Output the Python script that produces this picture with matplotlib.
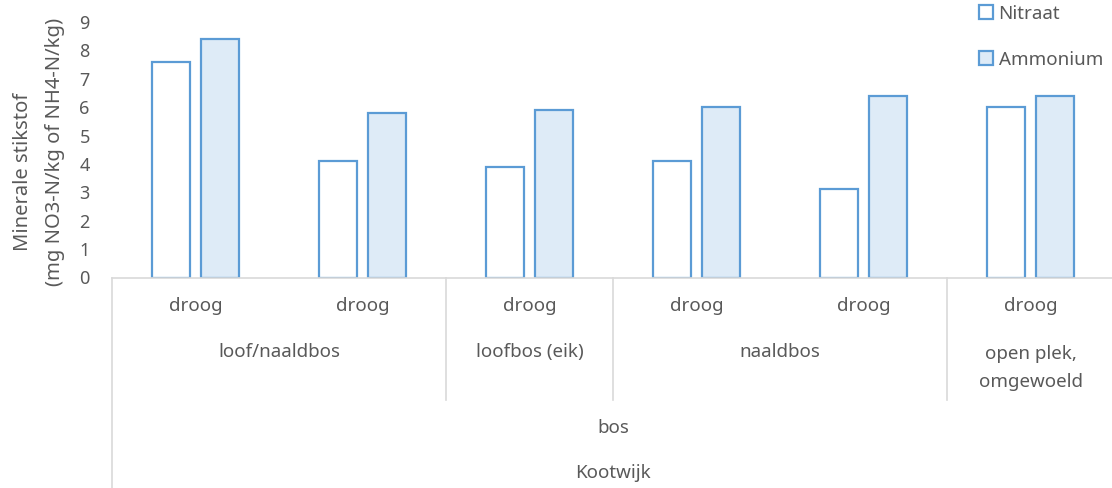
import matplotlib.pyplot as plt
import matplotlib.patches as mpatches
import matplotlib.transforms as mtransforms
import numpy as np

plt.rcParams['font.family'] = ['Noto Sans', 'DejaVu Sans']

# Data
vocht = ['droog', 'droog', 'droog', 'droog', 'droog', 'droog']
nitraat = [7.6, 4.1, 3.9, 4.1, 3.1, 6.0]
ammonium = [8.4, 5.8, 5.9, 6.0, 6.4, 6.4]
begroeiing = ['loof/naaldbos', 'loofbos (eik)', 'naaldbos', 'open plek,\nomgewoeld']
begroeiing_span = [(0, 1), (2, 2), (3, 4), (5, 5)]
landgebruik = 'bos'
locatie = 'Kootwijk'

blue = '#5B9BD5'
fill = '#DEEBF7'
grey_text = '#595959'
grey_line = '#D9D9D9'

W, H = 1112, 488
fig = plt.figure(figsize=(W / 100, H / 100), dpi=100)
ax = fig.add_axes([112 / W, (H - 277.5) / H, 1002 / W, 255.5 / H])

x = np.arange(len(nitraat))
bw = 0.228
off = 0.144
ax.bar(x - off, nitraat, bw, facecolor='white', edgecolor=blue, linewidth=1.6, label='Nitraat')
ax.bar(x + off, ammonium, bw, facecolor=fill, edgecolor=blue, linewidth=1.6, label='Ammonium')

ax.set_xlim(-0.5, 5.5)
ax.set_ylim(0, 9)
ax.set_yticks(range(10))
ax.tick_params(axis='y', length=0, pad=16, labelsize=13, labelcolor=grey_text)
ax.set_xticks([])
for s in ['top', 'right', 'left']:
    ax.spines[s].set_visible(False)
ax.spines['bottom'].set_color(grey_line)
ax.spines['bottom'].set_linewidth(1.2)

# Multi-level category axis: x in data units, y in figure pixels from top
tr = mtransforms.blended_transform_factory(ax.transData, fig.transFigure)
def fy(px):
    return 1 - px / H

txt = dict(ha='center', va='center', color=grey_text, fontsize=13.5, transform=tr)
for i, v in enumerate(vocht):
    ax.text(i, fy(306), v, **txt)
for lab, (a, b) in zip(begroeiing, begroeiing_span):
    if '\n' in lab:
        ax.text((a + b) / 2, fy(368), lab, linespacing=1.65, **txt)
    else:
        ax.text((a + b) / 2, fy(352), lab, **txt)
ax.text(2.5, fy(428), landgebruik, **txt)
ax.text(2.5, fy(473), locatie, **txt)

# Separator lines
ax.plot([-0.5, -0.5], [fy(277.5), fy(488)], color=grey_line, lw=1.2, transform=tr, clip_on=False)
for xs in [1.5, 2.5, 4.5]:
    ax.plot([xs, xs], [fy(277.5), fy(400)], color=grey_line, lw=1.2, transform=tr, clip_on=False)

# Axis title
fig.text(23 / W, fy(172), 'Minerale stikstof', rotation=90, ha='center', va='center',
         color=grey_text, fontsize=14.5)
fig.text(55 / W, fy(152), '(mg NO3-N/kg of NH4-N/kg)', rotation=90, ha='center', va='center',
         color=grey_text, fontsize=14.5)

# Legend
handles = [mpatches.Patch(facecolor='white', edgecolor=blue, linewidth=1.6, label='Nitraat'),
           mpatches.Patch(facecolor=fill, edgecolor=blue, linewidth=1.6, label='Ammonium')]
fig.legend(handles=handles, loc='upper left', bbox_to_anchor=(962 / W, 1.025), frameon=False,
           handlelength=0.75, handleheight=0.75, handletextpad=0.3, labelspacing=1.5,
           fontsize=13.5, labelcolor=grey_text)

fig.savefig('out.png', dpi=100)
